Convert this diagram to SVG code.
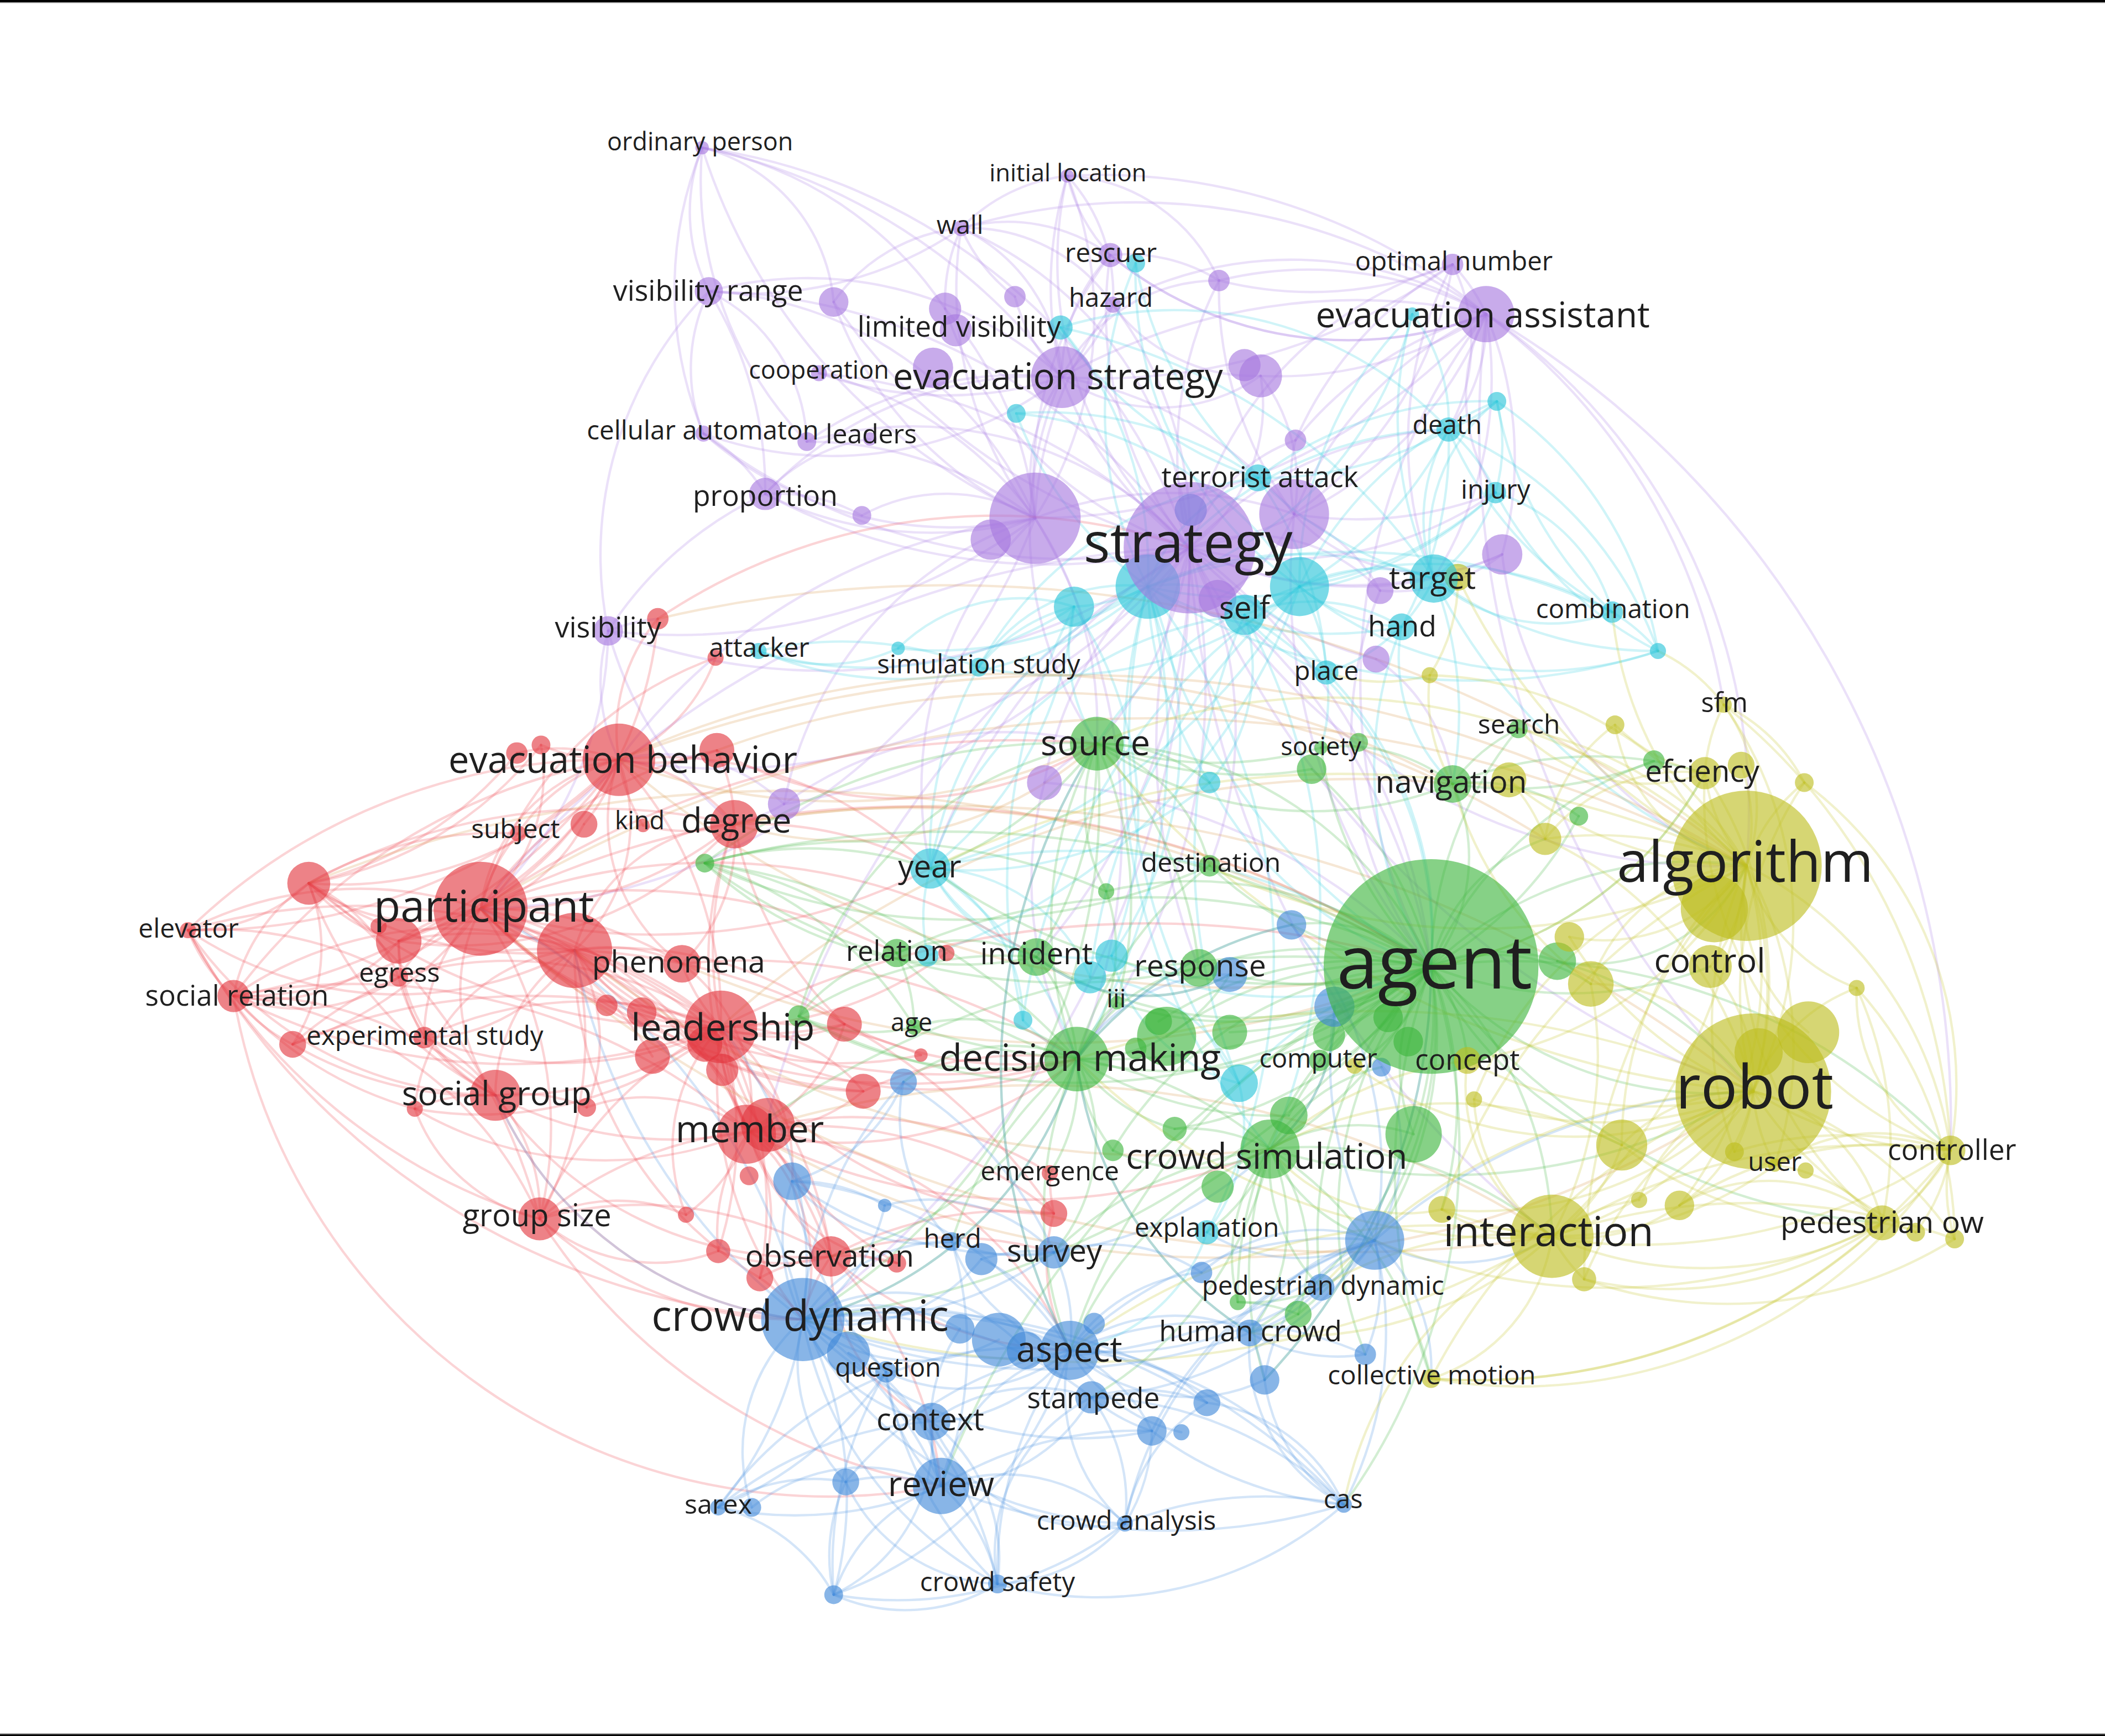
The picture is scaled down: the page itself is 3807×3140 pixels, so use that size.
<svg xmlns="http://www.w3.org/2000/svg" width="3807" height="3140" viewBox="0 0 3807 3140">
<style>
text{font-family:"Open Sans","Noto Sans","DejaVu Sans",sans-serif;fill:#1f1f1f;text-anchor:middle}
#edges path{fill:none;stroke-width:1.8;stroke-opacity:.24;stroke-linecap:round}
.ep{stroke:#ad80e6}.ec{stroke:#3ccfe2}.er{stroke:#ee4a52}.eg{stroke:#45b845}.eb{stroke:#4d92e0}.ey{stroke:#c4c42a}.eo{stroke:#d99a50}
circle{fill-opacity:.62}
.p{fill:#a677de}.c{fill:#27c3d8}.r{fill:#e2353e}.g{fill:#3bb43b}.b{fill:#3f88d8}.y{fill:#bdbd1d}
</style>
<rect width="3807" height="3140" fill="#fff"/>
<rect x="0" y="0" width="3807" height="4" fill="#000"/>
<rect x="0" y="4" width="3807" height="1.5" fill="#999"/>
<rect x="0" y="3135" width="3807" height="2" fill="#999"/>
<rect x="0" y="3137" width="3807" height="3" fill="#000"/>
<g transform="scale(2.42793)">
<g id="edges">
<path class="ep" d="M886 408A280 280 0 0 1 791 281"/>
<path class="ep" d="M886 408A450 450 0 0 0 528 217"/>
<path class="ep" d="M886 408A280 280 0 0 1 704 230"/>
<path class="ep" d="M886 408A280 280 0 0 0 716 170"/>
<path class="ep" d="M886 408A280 280 0 0 1 827 190"/>
<path class="ep" d="M886 408A280 280 0 0 0 829 227"/>
<path class="ep" d="M886 408A280 280 0 0 1 795 131"/>
<path class="ep" d="M886 408A280 280 0 0 0 1107 234"/>
<path class="ep" d="M886 408A280 280 0 0 1 1082 197"/>
<path class="ep" d="M886 408A450 450 0 0 1 570 368"/>
<path class="ep" d="M886 408A280 280 0 0 0 601 329"/>
<path class="ep" d="M886 408A450 450 0 0 1 524 323"/>
<path class="ep" d="M886 408A450 450 0 0 0 610 278"/>
<path class="ep" d="M886 408A450 450 0 0 1 453 470"/>
<path class="ep" d="M886 408A450 450 0 0 1 621 225"/>
<path class="ep" d="M886 408A280 280 0 0 1 908 209"/>
<path class="ep" d="M886 408A130 130 0 0 0 939 280"/>
<path class="ep" d="M886 408A130 130 0 0 1 965 328"/>
<path class="ep" d="M886 408A280 280 0 0 0 1119 413"/>
<path class="ep" d="M886 408A130 130 0 0 1 1028 440"/>
<path class="ep" d="M886 408A280 280 0 0 0 1025 491"/>
<path class="ep" d="M886 408A450 450 0 0 1 584 599"/>
<path class="ep" d="M886 408A280 280 0 0 0 778 583"/>
<path class="ep" d="M886 408A450 450 0 0 0 523 110"/>
<path class="ep" d="M886 408A450 450 0 0 1 1066 720"/>
<path class="ep" d="M886 408A450 450 0 0 0 1301 645"/>
<path class="ep" d="M886 408A280 280 0 0 1 817 554"/>
<path class="ep" d="M886 408A700 700 0 0 0 358 677"/>
<path class="ep" d="M886 408A450 450 0 0 1 461 566"/>
<path class="ep" d="M886 408A700 700 0 0 0 1306 813"/>
<path class="ep" d="M886 408A280 280 0 0 0 1068 431"/>
<path class="ep" d="M886 408A280 280 0 0 1 1079 320"/>
<path class="ep" d="M886 408A280 280 0 0 0 1114 367"/>
<path class="ep" d="M886 408A700 700 0 0 1 598 983"/>
<path class="ep" d="M886 408A700 700 0 0 0 570 841"/>
<path class="ep" d="M886 408A450 450 0 0 1 802 789"/>
<path class="ep" d="M886 408A700 700 0 0 0 1156 921"/>
<path class="ep" d="M886 408A450 450 0 0 1 772 713"/>
<path class="ep" d="M886 408A450 450 0 0 0 693 647"/>
<path class="ep" d="M886 408A280 280 0 0 1 901 645"/>
<path class="ep" d="M886 408A450 450 0 0 0 893 721"/>
<path class="ep" d="M771 386A450 450 0 0 1 523 110"/>
<path class="ep" d="M771 386A280 280 0 0 0 528 217"/>
<path class="ep" d="M771 386A280 280 0 0 1 716 170"/>
<path class="ep" d="M771 386A280 280 0 0 1 570 368"/>
<path class="ep" d="M771 386A280 280 0 0 0 610 278"/>
<path class="ep" d="M771 386A280 280 0 0 1 524 323"/>
<path class="ep" d="M771 386A280 280 0 0 0 601 329"/>
<path class="ep" d="M771 386A130 130 0 0 1 791 281"/>
<path class="ep" d="M771 386A280 280 0 0 1 621 225"/>
<path class="ep" d="M771 386A280 280 0 0 0 704 230"/>
<path class="ep" d="M771 386A280 280 0 0 1 829 227"/>
<path class="ep" d="M771 386A450 450 0 0 0 1107 234"/>
<path class="ep" d="M771 386A450 450 0 0 1 453 470"/>
<path class="ep" d="M771 386A130 130 0 0 0 642 384"/>
<path class="ep" d="M771 386A280 280 0 0 0 584 599"/>
<path class="ep" d="M771 386A280 280 0 0 1 827 190"/>
<path class="ep" d="M771 386A280 280 0 0 0 795 131"/>
<path class="ep" d="M771 386A280 280 0 0 1 964 383"/>
<path class="ep" d="M771 386A450 450 0 0 1 358 677"/>
<path class="ep" d="M771 386A450 450 0 0 0 461 566"/>
<path class="ep" d="M771 386A280 280 0 0 1 817 554"/>
<path class="ep" d="M771 386A280 280 0 0 0 693 647"/>
<path class="ep" d="M771 386A450 450 0 0 1 802 789"/>
<path class="ep" d="M791 281A450 450 0 0 0 523 110"/>
<path class="ep" d="M791 281A280 280 0 0 1 795 131"/>
<path class="ep" d="M791 281A130 130 0 0 0 716 170"/>
<path class="ep" d="M791 281A130 130 0 0 1 827 190"/>
<path class="ep" d="M791 281A130 130 0 0 0 829 227"/>
<path class="ep" d="M791 281A130 130 0 0 1 756 221"/>
<path class="ep" d="M791 281A130 130 0 0 1 908 209"/>
<path class="ep" d="M791 281A450 450 0 0 1 1107 234"/>
<path class="ep" d="M791 281A130 130 0 0 0 939 280"/>
<path class="ep" d="M791 281A280 280 0 0 1 964 383"/>
<path class="ep" d="M791 281A280 280 0 0 0 570 368"/>
<path class="ep" d="M791 281A280 280 0 0 1 524 323"/>
<path class="ep" d="M791 281A280 280 0 0 0 528 217"/>
<path class="ep" d="M791 281A280 280 0 0 1 610 278"/>
<path class="ep" d="M791 281A280 280 0 0 0 601 329"/>
<path class="ep" d="M791 281A450 450 0 0 0 1082 197"/>
<path class="ep" d="M791 281A280 280 0 0 0 817 554"/>
<path class="ep" d="M1107 234A130 130 0 0 0 1082 197"/>
<path class="ep" d="M1107 234A130 130 0 0 1 1079 320"/>
<path class="ep" d="M1107 234A130 130 0 0 0 1114 367"/>
<path class="ep" d="M1107 234A280 280 0 0 1 1119 413"/>
<path class="ep" d="M1107 234A280 280 0 0 0 964 383"/>
<path class="ep" d="M1107 234A280 280 0 0 1 939 280"/>
<path class="ep" d="M1107 234A280 280 0 0 0 965 328"/>
<path class="ep" d="M1107 234A700 700 0 0 1 1453 857"/>
<path class="ep" d="M1107 234A450 450 0 0 1 1301 645"/>
<path class="ep" d="M1107 234A700 700 0 0 0 1306 813"/>
<path class="ep" d="M1107 234A450 450 0 0 1 1284 525"/>
<path class="ep" d="M1107 234A280 280 0 0 0 908 209"/>
<path class="ep" d="M1107 234A450 450 0 0 0 716 170"/>
<path class="ep" d="M1107 234A280 280 0 0 1 827 190"/>
<path class="ep" d="M1107 234A280 280 0 0 1 1068 431"/>
<path class="ep" d="M1107 234A450 450 0 0 0 1066 720"/>
<path class="ep" d="M964 383A130 130 0 0 1 965 328"/>
<path class="ep" d="M964 383A130 130 0 0 0 1119 413"/>
<path class="ep" d="M964 383A130 130 0 0 1 1028 440"/>
<path class="ep" d="M964 383A130 130 0 0 0 939 280"/>
<path class="ep" d="M964 383A280 280 0 0 1 908 209"/>
<path class="ep" d="M964 383A280 280 0 0 0 1114 367"/>
<path class="ep" d="M964 383A130 130 0 0 1 907 446"/>
<path class="ep" d="M964 383A450 450 0 0 0 1066 720"/>
<path class="ep" d="M907 446A450 450 0 0 1 1066 720"/>
<path class="ep" d="M1025 491A130 130 0 0 1 1082 584"/>
<path class="ep" d="M1028 440A280 280 0 0 0 1066 720"/>
<path class="ep" d="M528 217A130 130 0 0 1 523 110"/>
<path class="ep" d="M528 217A130 130 0 0 0 524 323"/>
<path class="ep" d="M528 217A280 280 0 0 1 570 368"/>
<path class="ep" d="M528 217A280 280 0 0 0 453 470"/>
<path class="ep" d="M528 217A130 130 0 0 1 601 329"/>
<path class="ep" d="M523 110A280 280 0 0 1 704 230"/>
<path class="ep" d="M523 110A280 280 0 0 0 524 323"/>
<path class="ep" d="M523 110A130 130 0 0 1 621 225"/>
<path class="ep" d="M523 110A280 280 0 0 0 601 329"/>
<path class="ep" d="M795 131A130 130 0 0 0 716 170"/>
<path class="ep" d="M795 131A130 130 0 0 1 829 227"/>
<path class="ep" d="M795 131A130 130 0 0 0 827 190"/>
<path class="ep" d="M795 131A450 450 0 0 1 1107 234"/>
<path class="ep" d="M795 131A130 130 0 0 1 908 209"/>
<path class="ep" d="M716 170A130 130 0 0 1 827 190"/>
<path class="ep" d="M716 170A130 130 0 0 0 704 230"/>
<path class="ep" d="M716 170A130 130 0 0 1 829 227"/>
<path class="ep" d="M716 170A130 130 0 0 0 756 221"/>
<path class="ep" d="M716 170A130 130 0 0 0 621 225"/>
<path class="ep" d="M716 170A280 280 0 0 1 528 217"/>
<path class="ep" d="M827 190A280 280 0 0 0 1107 234"/>
<path class="ep" d="M827 190A130 130 0 0 1 908 209"/>
<path class="ep" d="M829 227A280 280 0 0 1 1107 234"/>
<path class="ep" d="M829 227A130 130 0 0 0 939 280"/>
<path class="ep" d="M1082 197A280 280 0 0 1 908 209"/>
<path class="ep" d="M1082 197A280 280 0 0 0 965 328"/>
<path class="ep" d="M1082 197A130 130 0 0 1 1079 320"/>
<path class="ep" d="M1082 197A280 280 0 0 0 1068 431"/>
<path class="ep" d="M570 368A130 130 0 0 1 648 327"/>
<path class="ep" d="M570 368A280 280 0 0 0 453 470"/>
<path class="ep" d="M570 368A130 130 0 0 1 642 384"/>
<path class="ep" d="M570 368A130 130 0 0 0 524 323"/>
<path class="ep" d="M453 470A280 280 0 0 1 358 677"/>
<path class="ep" d="M453 470A130 130 0 0 0 461 566"/>
<path class="ep" d="M453 470A130 130 0 0 1 490 461"/>
<path class="ep" d="M453 470A280 280 0 0 0 547 614"/>
<path class="ep" d="M584 599A130 130 0 0 1 547 614"/>
<path class="ep" d="M584 599A130 130 0 0 0 461 566"/>
<path class="ep" d="M584 599A280 280 0 0 1 817 554"/>
<path class="ep" d="M778 583A130 130 0 0 1 817 554"/>
<path class="ep" d="M778 583A280 280 0 0 0 802 789"/>
<path class="ep" d="M778 583A450 450 0 0 1 1066 720"/>
<path class="ep" d="M1082 197A280 280 0 0 1 964 383"/>
<path class="ep" d="M1119 413A130 130 0 0 1 1028 440"/>
<path class="ep" d="M1119 413A280 280 0 0 0 1301 645"/>
<path class="ec" d="M855 437A280 280 0 0 1 1079 320"/>
<path class="ec" d="M855 437A280 280 0 0 0 1114 367"/>
<path class="ec" d="M855 437A280 280 0 0 1 1068 431"/>
<path class="ec" d="M855 437A280 280 0 0 0 1044 467"/>
<path class="ec" d="M855 437A130 130 0 0 1 988 501"/>
<path class="ec" d="M855 437A130 130 0 0 0 729 497"/>
<path class="ec" d="M855 437A280 280 0 0 1 565 485"/>
<path class="ec" d="M855 437A280 280 0 0 0 693 647"/>
<path class="ec" d="M855 437A130 130 0 0 1 800 452"/>
<path class="ec" d="M855 437A280 280 0 0 0 901 583"/>
<path class="ec" d="M855 437A280 280 0 0 1 828 712"/>
<path class="ec" d="M855 437A450 450 0 0 0 923 807"/>
<path class="ec" d="M855 437A450 450 0 0 1 899 918"/>
<path class="ec" d="M855 437A280 280 0 0 1 757 308"/>
<path class="ec" d="M855 437A280 280 0 0 0 790 244"/>
<path class="ec" d="M855 437A280 280 0 0 1 846 196"/>
<path class="ec" d="M855 437A280 280 0 0 0 1052 234"/>
<path class="ec" d="M855 437A450 450 0 0 1 1201 456"/>
<path class="ec" d="M855 437A450 450 0 0 0 1235 485"/>
<path class="ec" d="M855 437A130 130 0 0 1 937 356"/>
<path class="ec" d="M855 437A280 280 0 0 1 669 483"/>
<path class="ec" d="M855 437A450 450 0 0 0 1066 720"/>
<path class="ec" d="M855 437A450 450 0 0 1 802 789"/>
<path class="ec" d="M855 437A450 450 0 0 0 946 856"/>
<path class="ec" d="M968 437A280 280 0 0 0 1079 320"/>
<path class="ec" d="M968 437A280 280 0 0 1 1115 299"/>
<path class="ec" d="M968 437A280 280 0 0 0 1114 367"/>
<path class="ec" d="M968 437A130 130 0 0 1 1068 431"/>
<path class="ec" d="M968 437A130 130 0 0 0 1044 467"/>
<path class="ec" d="M968 437A130 130 0 0 1 988 501"/>
<path class="ec" d="M968 437A280 280 0 0 1 1201 456"/>
<path class="ec" d="M968 437A280 280 0 0 0 1235 485"/>
<path class="ec" d="M968 437A280 280 0 0 1 1052 234"/>
<path class="ec" d="M968 437A450 450 0 0 1 693 647"/>
<path class="ec" d="M968 437A450 450 0 0 0 762 760"/>
<path class="ec" d="M968 437A450 450 0 0 1 691 712"/>
<path class="ec" d="M968 437A450 450 0 0 0 812 728"/>
<path class="ec" d="M968 437A280 280 0 0 1 846 196"/>
<path class="ec" d="M968 437A280 280 0 0 0 757 308"/>
<path class="ec" d="M968 437A280 280 0 0 1 729 497"/>
<path class="ec" d="M968 437A280 280 0 0 0 817 554"/>
<path class="ec" d="M1068 431A130 130 0 0 1 1079 320"/>
<path class="ec" d="M1068 431A130 130 0 0 0 1114 367"/>
<path class="ec" d="M1068 431A130 130 0 0 1 1115 299"/>
<path class="ec" d="M1068 431A130 130 0 0 0 1201 456"/>
<path class="ec" d="M1068 431A130 130 0 0 1 988 501"/>
<path class="ec" d="M1068 431A280 280 0 0 0 1235 485"/>
<path class="ec" d="M1068 431A280 280 0 0 1 1052 234"/>
<path class="ec" d="M1068 431A450 450 0 0 0 790 244"/>
<path class="ec" d="M1068 431A280 280 0 0 1 937 356"/>
<path class="ec" d="M1068 431A450 450 0 0 0 1301 645"/>
<path class="ec" d="M1068 431A280 280 0 0 1 1082 584"/>
<path class="ec" d="M1079 320A130 130 0 0 0 1115 299"/>
<path class="ec" d="M1079 320A130 130 0 0 1 1114 367"/>
<path class="ec" d="M1079 320A130 130 0 0 0 1052 234"/>
<path class="ec" d="M1079 320A280 280 0 0 1 1235 485"/>
<path class="ec" d="M1079 320A280 280 0 0 0 1201 456"/>
<path class="ec" d="M1079 320A280 280 0 0 1 937 356"/>
<path class="ec" d="M1079 320A280 280 0 0 0 790 244"/>
<path class="ec" d="M1079 320A280 280 0 0 1 1044 467"/>
<path class="ec" d="M1115 299A130 130 0 0 1 1114 367"/>
<path class="ec" d="M1115 299A280 280 0 0 0 1201 456"/>
<path class="ec" d="M1115 299A280 280 0 0 1 1235 485"/>
<path class="ec" d="M1115 299A280 280 0 0 0 937 356"/>
<path class="ec" d="M1114 367A130 130 0 0 1 1201 456"/>
<path class="ec" d="M1114 367A280 280 0 0 0 1235 485"/>
<path class="ec" d="M937 356A280 280 0 0 1 790 244"/>
<path class="ec" d="M937 356A280 280 0 0 0 757 308"/>
<path class="ec" d="M937 356A280 280 0 0 1 846 196"/>
<path class="ec" d="M937 356A280 280 0 0 0 729 497"/>
<path class="ec" d="M937 356A280 280 0 0 1 988 501"/>
<path class="ec" d="M927 458A130 130 0 0 0 988 501"/>
<path class="ec" d="M927 458A130 130 0 0 1 1044 467"/>
<path class="ec" d="M927 458A280 280 0 0 0 693 647"/>
<path class="ec" d="M927 458A130 130 0 0 1 901 583"/>
<path class="ec" d="M927 458A450 450 0 0 0 923 807"/>
<path class="ec" d="M927 458A280 280 0 0 1 1066 720"/>
<path class="ec" d="M927 458A450 450 0 0 1 946 856"/>
<path class="ec" d="M800 452A130 130 0 0 0 729 497"/>
<path class="ec" d="M800 452A280 280 0 0 1 693 647"/>
<path class="ec" d="M800 452A130 130 0 0 0 669 483"/>
<path class="ec" d="M800 452A280 280 0 0 1 565 485"/>
<path class="ec" d="M800 452A450 450 0 0 0 762 760"/>
<path class="ec" d="M800 452A280 280 0 0 1 828 712"/>
<path class="ec" d="M800 452A130 130 0 0 0 817 554"/>
<path class="ec" d="M693 647A130 130 0 0 0 691 712"/>
<path class="ec" d="M693 647A130 130 0 0 1 812 728"/>
<path class="ec" d="M693 647A130 130 0 0 0 828 712"/>
<path class="ec" d="M693 647A130 130 0 0 1 762 760"/>
<path class="ec" d="M693 647A280 280 0 0 0 901 583"/>
<path class="ec" d="M693 647A280 280 0 0 1 729 497"/>
<path class="ec" d="M693 647A450 450 0 0 1 1066 720"/>
<path class="ec" d="M693 647A280 280 0 0 1 802 789"/>
<path class="ec" d="M693 647A130 130 0 0 0 772 713"/>
<path class="ec" d="M923 807A130 130 0 0 1 899 918"/>
<path class="ec" d="M923 807A130 130 0 0 0 812 728"/>
<path class="ec" d="M923 807A130 130 0 0 1 828 712"/>
<path class="ec" d="M923 807A280 280 0 0 1 1066 720"/>
<path class="ec" d="M828 712A280 280 0 0 0 1066 720"/>
<path class="ec" d="M901 583A280 280 0 0 0 1066 720"/>
<path class="ec" d="M1044 467A280 280 0 0 0 1066 720"/>
<path class="ec" d="M988 501A280 280 0 0 1 1066 720"/>
<path class="ec" d="M1044 467A130 130 0 0 0 1082 584"/>
<path class="ec" d="M988 501A130 130 0 0 1 984 557"/>
<path class="ec" d="M762 760A130 130 0 0 0 802 789"/>
<path class="ec" d="M899 918A130 130 0 0 1 797 1006"/>
<path class="ec" d="M565 485A280 280 0 0 1 729 497"/>
<path class="ec" d="M565 485A130 130 0 0 0 669 483"/>
<path class="ec" d="M1201 456A130 130 0 0 1 1235 485"/>
<path class="er" d="M358 677A280 280 0 0 0 140 693"/>
<path class="er" d="M358 677A280 280 0 0 1 174 742"/>
<path class="er" d="M358 677A130 130 0 0 0 297 728"/>
<path class="er" d="M358 677A130 130 0 0 1 230 658"/>
<path class="er" d="M358 677A130 130 0 0 0 297 701"/>
<path class="er" d="M358 677A280 280 0 0 1 218 778"/>
<path class="er" d="M358 677A130 130 0 0 0 316 773"/>
<path class="er" d="M358 677A130 130 0 0 1 386 621"/>
<path class="er" d="M358 677A130 130 0 0 0 435 614"/>
<path class="er" d="M358 677A130 130 0 0 1 461 566"/>
<path class="er" d="M358 677A280 280 0 0 0 547 614"/>
<path class="er" d="M358 677A280 280 0 0 1 508 718"/>
<path class="er" d="M358 677A280 280 0 0 0 537 765"/>
<path class="er" d="M358 677A280 280 0 0 1 558 843"/>
<path class="er" d="M358 677A130 130 0 0 0 369 816"/>
<path class="er" d="M358 677A280 280 0 0 1 402 908"/>
<path class="er" d="M358 677A280 280 0 0 0 490 461"/>
<path class="er" d="M358 677A280 280 0 0 1 533 490"/>
<path class="er" d="M358 677A130 130 0 0 0 403 555"/>
<path class="er" d="M358 677A280 280 0 0 1 534 559"/>
<path class="er" d="M358 677A280 280 0 0 0 629 763"/>
<path class="er" d="M358 677A450 450 0 0 1 619 936"/>
<path class="er" d="M358 677A130 130 0 0 0 428 708"/>
<path class="er" d="M358 677A280 280 0 0 1 486 787"/>
<path class="er" d="M358 677A450 450 0 0 0 643 813"/>
<path class="er" d="M358 677A700 700 0 0 1 1066 720"/>
<path class="er" d="M358 677A450 450 0 0 0 802 789"/>
<path class="er" d="M358 677A450 450 0 0 1 668 710"/>
<path class="er" d="M358 677A450 450 0 0 0 693 647"/>
<path class="er" d="M358 677A700 700 0 0 1 817 554"/>
<path class="er" d="M358 677A450 450 0 0 1 772 713"/>
<path class="er" d="M428 708A280 280 0 0 1 140 693"/>
<path class="er" d="M428 708A280 280 0 0 0 174 742"/>
<path class="er" d="M428 708A280 280 0 0 1 230 658"/>
<path class="er" d="M428 708A130 130 0 0 0 461 566"/>
<path class="er" d="M428 708A130 130 0 0 1 547 614"/>
<path class="er" d="M428 708A130 130 0 0 0 537 765"/>
<path class="er" d="M428 708A280 280 0 0 1 558 843"/>
<path class="er" d="M428 708A130 130 0 0 0 369 816"/>
<path class="er" d="M428 708A280 280 0 0 1 402 908"/>
<path class="er" d="M428 708A280 280 0 0 0 218 778"/>
<path class="er" d="M428 708A130 130 0 0 1 316 773"/>
<path class="er" d="M428 708A280 280 0 0 0 643 813"/>
<path class="er" d="M428 708A280 280 0 0 1 619 936"/>
<path class="er" d="M428 708A280 280 0 0 0 566 952"/>
<path class="er" d="M428 708A450 450 0 0 1 785 904"/>
<path class="er" d="M428 708A280 280 0 0 0 686 786"/>
<path class="er" d="M428 708A280 280 0 0 1 629 763"/>
<path class="er" d="M428 708A130 130 0 0 0 297 701"/>
<path class="er" d="M428 708A130 130 0 0 1 508 718"/>
<path class="er" d="M428 708A130 130 0 0 0 309 826"/>
<path class="er" d="M428 708A130 130 0 0 1 437 825"/>
<path class="er" d="M428 708A450 450 0 0 0 802 789"/>
<path class="er" d="M537 765A130 130 0 0 0 558 843"/>
<path class="er" d="M537 765A280 280 0 0 1 369 816"/>
<path class="er" d="M537 765A280 280 0 0 0 402 908"/>
<path class="er" d="M537 765A130 130 0 0 1 508 718"/>
<path class="er" d="M537 765A130 130 0 0 0 629 763"/>
<path class="er" d="M537 765A130 130 0 0 1 643 813"/>
<path class="er" d="M537 765A280 280 0 0 0 619 936"/>
<path class="er" d="M537 765A280 280 0 0 1 535 932"/>
<path class="er" d="M537 765A130 130 0 0 0 511 905"/>
<path class="er" d="M537 765A280 280 0 0 1 547 614"/>
<path class="er" d="M537 765A280 280 0 0 0 461 566"/>
<path class="er" d="M537 765A450 450 0 0 1 230 658"/>
<path class="er" d="M537 765A280 280 0 0 0 785 904"/>
<path class="er" d="M537 765A280 280 0 0 1 686 786"/>
<path class="er" d="M537 765A280 280 0 0 0 705 710"/>
<path class="er" d="M537 765A700 700 0 0 1 1066 720"/>
<path class="er" d="M537 765A280 280 0 0 0 598 983"/>
<path class="er" d="M537 765A450 450 0 0 1 174 742"/>
<path class="er" d="M537 765A450 450 0 0 0 140 693"/>
<path class="er" d="M537 765A280 280 0 0 1 309 826"/>
<path class="er" d="M537 765A280 280 0 0 0 316 773"/>
<path class="er" d="M537 765A280 280 0 0 1 566 952"/>
<path class="er" d="M537 765A280 280 0 0 0 668 941"/>
<path class="er" d="M537 765A130 130 0 0 1 590 880"/>
<path class="er" d="M537 765A280 280 0 0 0 802 789"/>
<path class="er" d="M558 843A280 280 0 0 1 369 816"/>
<path class="er" d="M558 843A280 280 0 0 0 402 908"/>
<path class="er" d="M558 843A130 130 0 0 1 619 936"/>
<path class="er" d="M558 843A130 130 0 0 0 668 941"/>
<path class="er" d="M558 843A130 130 0 0 1 566 952"/>
<path class="er" d="M558 843A130 130 0 0 0 535 932"/>
<path class="er" d="M558 843A130 130 0 0 1 598 983"/>
<path class="er" d="M558 843A130 130 0 0 0 643 813"/>
<path class="er" d="M558 843A280 280 0 0 1 785 904"/>
<path class="er" d="M558 843A280 280 0 0 0 802 789"/>
<path class="eo" d="M558 843A700 700 0 0 1 1156 921"/>
<path class="eo" d="M558 843A700 700 0 0 0 1306 813"/>
<path class="er" d="M558 843A130 130 0 0 1 511 905"/>
<path class="er" d="M558 843A130 130 0 0 0 437 825"/>
<path class="er" d="M558 843A280 280 0 0 1 309 826"/>
<path class="er" d="M558 843A450 450 0 0 0 174 742"/>
<path class="er" d="M558 843A280 280 0 0 1 797 1006"/>
<path class="er" d="M558 843A130 130 0 0 0 629 763"/>
<path class="er" d="M558 843A280 280 0 0 1 782 874"/>
<path class="er" d="M558 843A450 450 0 0 0 946 856"/>
<path class="er" d="M461 566A130 130 0 0 1 490 461"/>
<path class="er" d="M461 566A130 130 0 0 0 533 490"/>
<path class="er" d="M461 566A130 130 0 0 1 403 555"/>
<path class="er" d="M461 566A130 130 0 0 0 385 561"/>
<path class="er" d="M461 566A130 130 0 0 1 435 614"/>
<path class="er" d="M461 566A130 130 0 0 0 386 621"/>
<path class="er" d="M461 566A130 130 0 0 1 547 614"/>
<path class="er" d="M461 566A130 130 0 0 0 534 559"/>
<path class="er" d="M461 566A280 280 0 0 1 230 658"/>
<path class="er" d="M461 566A450 450 0 0 0 174 742"/>
<path class="er" d="M461 566A450 450 0 0 1 140 693"/>
<path class="eo" d="M461 566A700 700 0 0 0 1066 720"/>
<path class="eo" d="M461 566A950 950 0 0 1 1301 645"/>
<path class="eo" d="M461 566A450 450 0 0 0 817 554"/>
<path class="er" d="M461 566A280 280 0 0 1 693 647"/>
<path class="er" d="M461 566A130 130 0 0 0 508 718"/>
<path class="er" d="M461 566A280 280 0 0 1 297 701"/>
<path class="er" d="M461 566A130 130 0 0 0 479 615"/>
<path class="er" d="M230 658A130 130 0 0 1 140 693"/>
<path class="er" d="M230 658A130 130 0 0 0 174 742"/>
<path class="er" d="M230 658A130 130 0 0 1 218 778"/>
<path class="er" d="M230 658A130 130 0 0 0 297 701"/>
<path class="er" d="M230 658A130 130 0 0 1 297 728"/>
<path class="er" d="M230 658A280 280 0 0 0 369 816"/>
<path class="er" d="M230 658A450 450 0 0 1 402 908"/>
<path class="er" d="M230 658A280 280 0 0 0 403 555"/>
<path class="er" d="M230 658A280 280 0 0 1 386 621"/>
<path class="er" d="M230 658A280 280 0 0 0 385 561"/>
<path class="er" d="M230 658A450 450 0 0 1 547 614"/>
<path class="er" d="M174 742A130 130 0 0 1 140 693"/>
<path class="er" d="M174 742A130 130 0 0 0 218 778"/>
<path class="er" d="M174 742A280 280 0 0 1 369 816"/>
<path class="er" d="M174 742A130 130 0 0 0 297 728"/>
<path class="er" d="M174 742A280 280 0 0 1 402 908"/>
<path class="er" d="M174 742A280 280 0 0 0 309 826"/>
<path class="er" d="M174 742A450 450 0 0 0 701 1107"/>
<path class="er" d="M174 742A450 450 0 0 0 461 566"/>
<path class="er" d="M140 693A560 560 0 0 0 598 983"/>
<path class="er" d="M140 693A450 450 0 0 1 461 566"/>
<path class="er" d="M369 816A130 130 0 0 1 402 908"/>
<path class="er" d="M369 816A130 130 0 0 0 309 826"/>
<path class="er" d="M369 816A130 130 0 0 1 437 825"/>
<path class="er" d="M369 816A130 130 0 0 0 316 773"/>
<path class="er" d="M369 816A280 280 0 0 1 218 778"/>
<path class="er" d="M369 816A280 280 0 0 0 619 936"/>
<path class="er" d="M369 816A130 130 0 0 1 297 728"/>
<path class="er" d="M369 816A280 280 0 0 0 598 983"/>
<path class="er" d="M402 908A130 130 0 0 1 511 905"/>
<path class="er" d="M402 908A130 130 0 0 0 535 932"/>
<path class="er" d="M402 908A280 280 0 0 1 619 936"/>
<path class="er" d="M402 908A280 280 0 0 0 598 983"/>
<path class="er" d="M402 908A450 450 0 0 0 701 1107"/>
<path class="er" d="M309 826A130 130 0 0 0 402 908"/>
<path class="er" d="M140 693A280 280 0 0 1 297 728"/>
<path class="er" d="M140 693A280 280 0 0 0 369 816"/>
<path class="er" d="M140 693A450 450 0 0 0 402 908"/>
<path class="er" d="M297 701A130 130 0 0 1 174 742"/>
<path class="er" d="M297 701A130 130 0 0 0 316 773"/>
<path class="er" d="M297 701A130 130 0 0 0 369 816"/>
<path class="er" d="M297 701A280 280 0 0 1 537 765"/>
<path class="er" d="M297 701A280 280 0 0 0 547 614"/>
<path class="er" d="M297 728A280 280 0 0 1 537 765"/>
<path class="er" d="M316 773A280 280 0 0 0 537 765"/>
<path class="er" d="M218 778A450 450 0 0 1 537 765"/>
<path class="er" d="M508 718A130 130 0 0 1 558 843"/>
<path class="er" d="M508 718A450 450 0 0 1 802 789"/>
<path class="eo" d="M508 718A700 700 0 0 0 1066 720"/>
<path class="er" d="M547 614A130 130 0 0 1 479 615"/>
<path class="er" d="M547 614A130 130 0 0 0 534 559"/>
<path class="er" d="M547 614A130 130 0 0 1 508 718"/>
<path class="er" d="M547 614A280 280 0 0 0 629 763"/>
<path class="er" d="M547 614A280 280 0 0 1 693 647"/>
<path class="er" d="M547 614A280 280 0 0 0 558 843"/>
<path class="eo" d="M547 614A280 280 0 0 0 817 554"/>
<path class="eo" d="M547 614A700 700 0 0 1 1066 720"/>
<path class="er" d="M643 813A280 280 0 0 1 802 789"/>
<path class="er" d="M629 763A280 280 0 0 0 802 789"/>
<path class="er" d="M534 559A280 280 0 0 0 817 554"/>
<path class="er" d="M490 461A450 450 0 0 1 886 408"/>
<path class="er" d="M619 936A130 130 0 0 1 668 941"/>
<path class="er" d="M619 936A130 130 0 0 0 566 952"/>
<path class="er" d="M619 936A130 130 0 0 1 535 932"/>
<path class="er" d="M619 936A130 130 0 0 0 598 983"/>
<path class="er" d="M619 936A280 280 0 0 1 785 904"/>
<path class="er" d="M619 936A280 280 0 0 0 797 1006"/>
<path class="er" d="M619 936A280 280 0 0 1 701 1107"/>
<path class="er" d="M619 936A130 130 0 0 0 694 1059"/>
<path class="er" d="M619 936A280 280 0 0 1 785 933"/>
<path class="er" d="M566 952A130 130 0 0 1 598 983"/>
<path class="er" d="M785 904A130 130 0 0 1 782 874"/>
<path class="er" d="M785 904A130 130 0 0 0 797 1006"/>
<path class="eo" d="M358 677A950 950 0 0 1 1301 645"/>
<path class="eo" d="M358 677A950 950 0 0 0 1156 921"/>
<path class="eo" d="M537 765A700 700 0 0 1 1082 584"/>
<path class="eo" d="M461 566A700 700 0 0 1 1082 584"/>
<path class="eo" d="M547 614A950 950 0 0 1 1306 813"/>
<path class="eo" d="M428 708A700 700 0 0 0 946 856"/>
<path class="eo" d="M490 461A950 950 0 0 1 1301 645"/>
<path class="eo" d="M534 559A700 700 0 0 1 1151 625"/>
<path class="eo" d="M230 658A950 950 0 0 1 1066 720"/>
<path class="eg" d="M1066 720A280 280 0 0 0 817 554"/>
<path class="eg" d="M1066 720A280 280 0 0 1 984 557"/>
<path class="eg" d="M1066 720A280 280 0 0 0 977 573"/>
<path class="eg" d="M1066 720A280 280 0 0 1 1131 543"/>
<path class="eg" d="M1066 720A130 130 0 0 0 1082 584"/>
<path class="eg" d="M1066 720A280 280 0 0 1 901 645"/>
<path class="eg" d="M1066 720A280 280 0 0 0 824 664"/>
<path class="eg" d="M1066 720A280 280 0 0 1 772 713"/>
<path class="eg" d="M1066 720A280 280 0 0 0 893 721"/>
<path class="eg" d="M1066 720A280 280 0 0 1 802 789"/>
<path class="eg" d="M1066 720A280 280 0 0 0 869 772"/>
<path class="eg" d="M1066 720A280 280 0 0 1 916 769"/>
<path class="eg" d="M1066 720A280 280 0 0 0 960 831"/>
<path class="eg" d="M1066 720A280 280 0 0 1 875 841"/>
<path class="eg" d="M1066 720A130 130 0 0 0 1053 845"/>
<path class="eg" d="M1066 720A280 280 0 0 1 946 856"/>
<path class="eg" d="M1066 720A280 280 0 0 0 829 857"/>
<path class="eg" d="M1066 720A280 280 0 0 1 967 979"/>
<path class="eg" d="M1066 720A280 280 0 0 0 922 970"/>
<path class="eg" d="M1066 720A130 130 0 0 1 1160 716"/>
<path class="eg" d="M1066 720A280 280 0 0 0 1176 608"/>
<path class="eg" d="M1066 720A280 280 0 0 1 1232 567"/>
<path class="eg" d="M1066 720A700 700 0 0 0 525 643"/>
<path class="eg" d="M1066 720A450 450 0 0 1 595 757"/>
<path class="eg" d="M1066 720A450 450 0 0 0 668 710"/>
<path class="eg" d="M1066 720A280 280 0 0 1 1301 645"/>
<path class="eg" d="M1066 720A280 280 0 0 0 1306 813"/>
<path class="eg" d="M1066 720A280 280 0 0 1 1156 921"/>
<path class="eg" d="M1066 720A280 280 0 0 0 1274 720"/>
<path class="eg" d="M1066 720A130 130 0 0 1 1185 733"/>
<path class="eg" d="M1066 720A280 280 0 0 0 1208 853"/>
<path class="eg" d="M1066 720A130 130 0 0 1 1151 625"/>
<path class="eg" d="M1066 720A280 280 0 0 0 1270 576"/>
<path class="eg" d="M1066 720A700 700 0 0 1 598 983"/>
<path class="eg" d="M1066 720A450 450 0 0 0 797 1006"/>
<path class="eg" d="M1066 720A280 280 0 0 1 1024 924"/>
<path class="eg" d="M1066 720A450 450 0 0 0 1402 911"/>
<path class="eg" d="M1066 720A450 450 0 0 1 1453 857"/>
<path class="eg" d="M1066 720A450 450 0 0 1 693 647"/>
<path class="eg" d="M1066 720A130 130 0 0 0 962 689"/>
<path class="eg" d="M1066 720A130 130 0 0 1 1093 790"/>
<path class="eg" d="M1066 720A130 130 0 0 0 983 790"/>
<path class="eg" d="M1066 720A280 280 0 0 1 832 747"/>
<path class="eg" d="M1066 720A280 280 0 0 0 863 761"/>
<path class="eg" d="M1066 720A450 450 0 0 1 681 765"/>
<path class="eg" d="M1066 720A280 280 0 0 0 984 959"/>
<path class="eg" d="M1066 720A280 280 0 0 1 931 993"/>
<path class="eg" d="M1066 720A280 280 0 0 1 916 726"/>
<path class="eg" d="M1066 720A450 450 0 0 0 1066 1027"/>
<path class="eg" d="M1066 720A280 280 0 0 1 1074 901"/>
<path class="eg" d="M1066 720A700 700 0 0 0 558 843"/>
<path class="eg" d="M1066 720A130 130 0 0 1 1009 794"/>
<path class="eg" d="M1066 720A450 450 0 0 1 942 1028"/>
<path class="eg" d="M1066 720A280 280 0 0 0 1017 1009"/>
<path class="eg" d="M1066 720A450 450 0 0 1 1001 1121"/>
<path class="eg" d="M1066 720A700 700 0 0 0 701 1107"/>
<path class="eg" d="M802 789A280 280 0 0 1 817 554"/>
<path class="eg" d="M802 789A130 130 0 0 0 772 713"/>
<path class="eg" d="M802 789A130 130 0 0 1 893 721"/>
<path class="eg" d="M802 789A130 130 0 0 0 875 841"/>
<path class="eg" d="M802 789A280 280 0 0 1 946 856"/>
<path class="eg" d="M802 789A130 130 0 0 0 829 857"/>
<path class="eg" d="M802 789A280 280 0 0 1 595 757"/>
<path class="eg" d="M802 789A450 450 0 0 0 525 643"/>
<path class="eg" d="M802 789A280 280 0 0 1 668 710"/>
<path class="eg" d="M802 789A280 280 0 0 0 797 1006"/>
<path class="eg" d="M802 789A280 280 0 0 1 619 936"/>
<path class="eg" d="M802 789A130 130 0 0 0 673 806"/>
<path class="eg" d="M802 789A130 130 0 0 1 782 874"/>
<path class="eg" d="M802 789A280 280 0 0 0 960 831"/>
<path class="eg" d="M802 789A130 130 0 0 1 832 747"/>
<path class="eg" d="M802 789A130 130 0 0 0 681 765"/>
<path class="eg" d="M802 789A130 130 0 0 1 785 933"/>
<path class="eg" d="M802 789A280 280 0 0 0 709 925"/>
<path class="eg" d="M802 789A280 280 0 0 1 901 645"/>
<path class="eg" d="M802 789A130 130 0 0 0 824 664"/>
<path class="eg" d="M802 789A280 280 0 0 1 962 689"/>
<path class="eg" d="M802 789A130 130 0 0 0 916 726"/>
<path class="eg" d="M772 713A130 130 0 0 0 916 726"/>
<path class="eg" d="M802 789A280 280 0 0 0 931 993"/>
<path class="eg" d="M802 789A280 280 0 0 1 598 983"/>
<path class="eg" d="M946 856A130 130 0 0 1 1053 845"/>
<path class="eg" d="M946 856A130 130 0 0 0 922 970"/>
<path class="eg" d="M946 856A130 130 0 0 1 967 979"/>
<path class="eg" d="M946 856A130 130 0 0 0 984 959"/>
<path class="eg" d="M946 856A130 130 0 0 1 931 993"/>
<path class="eg" d="M946 856A130 130 0 0 0 1024 924"/>
<path class="eg" d="M946 856A280 280 0 0 1 1156 921"/>
<path class="eg" d="M946 856A450 450 0 0 0 1306 813"/>
<path class="eg" d="M946 856A130 130 0 0 1 899 918"/>
<path class="eg" d="M946 856A280 280 0 0 0 797 1006"/>
<path class="eg" d="M946 856A280 280 0 0 1 813 1041"/>
<path class="eg" d="M946 856A280 280 0 0 0 942 1028"/>
<path class="eg" d="M946 856A280 280 0 0 1 1066 1027"/>
<path class="eg" d="M946 856A130 130 0 0 0 875 841"/>
<path class="eg" d="M946 856A130 130 0 0 1 829 857"/>
<path class="eg" d="M946 856A130 130 0 0 0 994 750"/>
<path class="eg" d="M946 856A130 130 0 0 1 1029 795"/>
<path class="eg" d="M946 856A280 280 0 0 0 785 933"/>
<path class="eg" d="M817 554A130 130 0 0 1 901 583"/>
<path class="eg" d="M817 554A280 280 0 0 0 984 557"/>
<path class="eg" d="M817 554A130 130 0 0 1 901 645"/>
<path class="eg" d="M817 554A130 130 0 0 0 824 664"/>
<path class="eg" d="M817 554A280 280 0 0 1 772 713"/>
<path class="eg" d="M817 554A280 280 0 0 0 1082 584"/>
<path class="eg" d="M817 554A280 280 0 0 1 693 647"/>
<path class="eg" d="M817 554A450 450 0 0 0 525 643"/>
<path class="eg" d="M817 554A280 280 0 0 1 893 721"/>
<path class="eg" d="M817 554A280 280 0 0 0 977 573"/>
<path class="eg" d="M817 554A280 280 0 0 1 832 747"/>
<path class="eg" d="M817 554A280 280 0 0 0 595 757"/>
<path class="eg" d="M817 554A450 450 0 0 0 797 1006"/>
<path class="eg" d="M817 554A450 450 0 0 1 598 983"/>
<path class="eg" d="M1082 584A130 130 0 0 1 1131 543"/>
<path class="eg" d="M1082 584A130 130 0 0 0 984 557"/>
<path class="eg" d="M1082 584A130 130 0 0 1 1176 608"/>
<path class="eg" d="M1082 584A280 280 0 0 0 1232 567"/>
<path class="eg" d="M1082 584A280 280 0 0 1 1270 576"/>
<path class="eg" d="M525 643A280 280 0 0 1 693 647"/>
<path class="eg" d="M525 643A280 280 0 0 0 772 713"/>
<path class="eg" d="M525 643A280 280 0 0 1 668 710"/>
<path class="eg" d="M525 643A450 450 0 0 0 901 645"/>
<path class="eg" d="M525 643A450 450 0 0 1 824 664"/>
<path class="eg" d="M525 643A450 450 0 0 0 893 721"/>
<path class="eg" d="M525 643A280 280 0 0 1 681 765"/>
<path class="eg" d="M668 710A130 130 0 0 1 772 713"/>
<path class="eg" d="M668 710A130 130 0 0 0 595 757"/>
<path class="eg" d="M668 710A130 130 0 0 1 681 765"/>
<path class="eg" d="M595 757A130 130 0 0 0 681 765"/>
<path class="eg" d="M595 757A280 280 0 0 1 772 713"/>
<path class="eg" d="M922 970A130 130 0 0 1 967 979"/>
<path class="eg" d="M922 970A130 130 0 0 0 984 959"/>
<path class="eg" d="M967 979A130 130 0 0 1 931 993"/>
<path class="eg" d="M1160 716A130 130 0 0 0 1301 645"/>
<path class="eg" d="M1160 716A280 280 0 0 1 1306 813"/>
<path class="eb" d="M598 983A130 130 0 0 1 660 1022"/>
<path class="eb" d="M598 983A130 130 0 0 0 694 1059"/>
<path class="eb" d="M598 983A280 280 0 0 1 701 1107"/>
<path class="eb" d="M598 983A130 130 0 0 0 630 1104"/>
<path class="eb" d="M598 983A280 280 0 0 1 535 1123"/>
<path class="eb" d="M598 983A130 130 0 0 0 560 1123"/>
<path class="eb" d="M598 983A280 280 0 0 1 621 1188"/>
<path class="eb" d="M598 983A280 280 0 0 0 743 1180"/>
<path class="eb" d="M598 983A280 280 0 0 1 797 1006"/>
<path class="eb" d="M598 983A130 130 0 0 0 744 998"/>
<path class="eb" d="M598 983A130 130 0 0 1 715 990"/>
<path class="eb" d="M598 983A280 280 0 0 0 785 933"/>
<path class="eb" d="M598 983A130 130 0 0 1 709 925"/>
<path class="eb" d="M598 983A130 130 0 0 0 731 938"/>
<path class="eb" d="M598 983A130 130 0 0 1 590 880"/>
<path class="eb" d="M598 983A130 130 0 0 0 659 898"/>
<path class="eb" d="M598 983A280 280 0 0 1 813 1041"/>
<path class="eb" d="M598 983A280 280 0 0 0 838 1135"/>
<path class="eb" d="M598 983A280 280 0 0 1 673 806"/>
<path class="eb" d="M598 983A450 450 0 0 0 358 677"/>
<path class="eb" d="M598 983A280 280 0 0 1 369 816"/>
<path class="eb" d="M598 983A280 280 0 0 0 858 1066"/>
<path class="eb" d="M598 983A130 130 0 0 1 764 1006"/>
<path class="eb" d="M598 983A450 450 0 0 0 931 993"/>
<path class="eb" d="M598 983A450 450 0 0 1 1001 1121"/>
<path class="eb" d="M598 983A450 450 0 0 0 1024 924"/>
<path class="eb" d="M598 983A450 450 0 0 1 899 1045"/>
<path class="eb" d="M598 983A280 280 0 0 0 537 765"/>
<path class="eb" d="M598 983A450 450 0 0 1 428 708"/>
<path class="eb" d="M797 1006A130 130 0 0 1 694 1059"/>
<path class="eb" d="M797 1006A130 130 0 0 0 701 1107"/>
<path class="eb" d="M797 1006A130 130 0 0 1 858 1066"/>
<path class="eb" d="M797 1006A130 130 0 0 0 880 1067"/>
<path class="eb" d="M797 1006A130 130 0 0 1 899 1045"/>
<path class="eb" d="M797 1006A130 130 0 0 0 942 1028"/>
<path class="eb" d="M797 1006A130 130 0 0 1 931 993"/>
<path class="eb" d="M797 1006A280 280 0 0 0 984 959"/>
<path class="eb" d="M797 1006A280 280 0 0 1 1024 924"/>
<path class="eb" d="M797 1006A130 130 0 0 0 785 933"/>
<path class="eb" d="M797 1006A130 130 0 0 1 709 925"/>
<path class="eb" d="M797 1006A130 130 0 0 0 731 938"/>
<path class="eb" d="M797 1006A130 130 0 0 1 660 1022"/>
<path class="eb" d="M797 1006A130 130 0 0 0 838 1135"/>
<path class="eb" d="M797 1006A280 280 0 0 1 1001 1121"/>
<path class="eb" d="M797 1006A280 280 0 0 0 743 1180"/>
<path class="eb" d="M797 1006A280 280 0 0 1 1017 1009"/>
<path class="eb" d="M797 1006A280 280 0 0 0 630 1104"/>
<path class="eb" d="M797 1006A280 280 0 0 1 621 1188"/>
<path class="eb" d="M797 1006A280 280 0 0 0 535 1123"/>
<path class="eb" d="M797 1006A130 130 0 0 1 895 948"/>
<path class="eb" d="M797 1006A280 280 0 0 0 590 880"/>
<path class="eb" d="M701 1107A130 130 0 0 1 694 1059"/>
<path class="eb" d="M701 1107A130 130 0 0 0 630 1104"/>
<path class="eb" d="M701 1107A280 280 0 0 1 535 1123"/>
<path class="eb" d="M701 1107A130 130 0 0 0 560 1123"/>
<path class="eb" d="M701 1107A130 130 0 0 1 743 1180"/>
<path class="eb" d="M701 1107A130 130 0 0 0 621 1188"/>
<path class="eb" d="M701 1107A130 130 0 0 1 838 1135"/>
<path class="eb" d="M701 1107A450 450 0 0 0 1001 1121"/>
<path class="eb" d="M701 1107A130 130 0 0 1 660 1022"/>
<path class="eb" d="M701 1107A130 130 0 0 0 813 1041"/>
<path class="eb" d="M701 1107A280 280 0 0 1 858 1066"/>
<path class="eb" d="M701 1107A130 130 0 0 0 632 1008"/>
<path class="eb" d="M701 1107A130 130 0 0 1 715 990"/>
<path class="eb" d="M701 1107A280 280 0 0 0 709 925"/>
<path class="eb" d="M1024 924A130 130 0 0 1 984 959"/>
<path class="eb" d="M1024 924A130 130 0 0 0 931 993"/>
<path class="eb" d="M1024 924A280 280 0 0 1 1001 1121"/>
<path class="eb" d="M1024 924A130 130 0 0 0 942 1028"/>
<path class="eb" d="M1024 924A130 130 0 0 1 1017 1009"/>
<path class="eb" d="M1024 924A130 130 0 0 0 895 948"/>
<path class="eb" d="M1024 924A130 130 0 0 1 899 918"/>
<path class="eb" d="M1024 924A280 280 0 0 0 962 689"/>
<path class="eb" d="M1024 924A280 280 0 0 1 994 750"/>
<path class="eb" d="M1024 924A280 280 0 0 0 838 1135"/>
<path class="eb" d="M1024 924A130 130 0 0 1 1066 1027"/>
<path class="eb" d="M1024 924A280 280 0 0 0 858 1066"/>
<path class="eb" d="M1024 924A280 280 0 0 1 813 1041"/>
<path class="eb" d="M1024 924A130 130 0 0 0 1156 921"/>
<path class="eb" d="M1024 924A450 450 0 0 1 1306 813"/>
<path class="eb" d="M1024 924A130 130 0 0 0 1029 795"/>
<path class="eb" d="M962 689A280 280 0 0 0 802 789"/>
<path class="eb" d="M994 750A130 130 0 0 1 946 856"/>
<path class="eb" d="M916 726A130 130 0 0 0 802 789"/>
<path class="eb" d="M916 726A130 130 0 0 1 772 713"/>
<path class="eb" d="M931 993A280 280 0 0 1 802 789"/>
<path class="eb" d="M785 933A280 280 0 0 0 946 856"/>
<path class="eb" d="M942 1028A450 450 0 0 0 1066 720"/>
<path class="eb" d="M797 1006A450 450 0 0 1 817 554"/>
<path class="eb" d="M598 983A280 280 0 0 0 802 789"/>
<path class="eb" d="M1001 1121A280 280 0 0 1 858 1066"/>
<path class="eb" d="M1001 1121A130 130 0 0 0 899 1045"/>
<path class="eb" d="M1001 1121A130 130 0 0 1 942 1028"/>
<path class="eb" d="M1001 1121A280 280 0 0 0 813 1041"/>
<path class="eb" d="M1001 1121A130 130 0 0 1 931 993"/>
<path class="eb" d="M1001 1121A280 280 0 0 0 838 1135"/>
<path class="eb" d="M1001 1121A280 280 0 0 1 743 1180"/>
<path class="eb" d="M743 1180A130 130 0 0 1 621 1188"/>
<path class="eb" d="M743 1180A130 130 0 0 0 694 1059"/>
<path class="eb" d="M743 1180A130 130 0 0 1 630 1104"/>
<path class="eb" d="M743 1180A130 130 0 0 0 838 1135"/>
<path class="eb" d="M743 1180A280 280 0 0 1 660 1022"/>
<path class="eb" d="M743 1180A280 280 0 0 0 632 1008"/>
<path class="eb" d="M743 1180A130 130 0 0 1 813 1041"/>
<path class="eb" d="M621 1188A130 130 0 0 0 694 1059"/>
<path class="eb" d="M621 1188A280 280 0 0 1 660 1022"/>
<path class="eb" d="M621 1188A130 130 0 0 0 535 1123"/>
<path class="eb" d="M621 1188A130 130 0 0 1 630 1104"/>
<path class="eb" d="M621 1188A280 280 0 0 0 838 1135"/>
<path class="eb" d="M535 1123A130 130 0 0 1 630 1104"/>
<path class="eb" d="M535 1123A280 280 0 0 0 660 1022"/>
<path class="eb" d="M535 1123A280 280 0 0 1 694 1059"/>
<path class="eb" d="M838 1135A130 130 0 0 0 813 1041"/>
<path class="eb" d="M838 1135A130 130 0 0 1 694 1059"/>
<path class="eb" d="M838 1135A130 130 0 0 0 858 1066"/>
<path class="eb" d="M838 1135A130 130 0 0 1 899 1045"/>
<path class="eb" d="M813 1041A130 130 0 0 0 858 1066"/>
<path class="eb" d="M813 1041A130 130 0 0 1 899 1045"/>
<path class="eb" d="M813 1041A130 130 0 0 0 694 1059"/>
<path class="eb" d="M785 933A130 130 0 0 1 709 925"/>
<path class="eb" d="M785 933A130 130 0 0 0 731 938"/>
<path class="eb" d="M785 933A280 280 0 0 1 590 880"/>
<path class="eb" d="M785 933A130 130 0 0 0 659 898"/>
<path class="eb" d="M785 933A130 130 0 0 1 895 948"/>
<path class="eb" d="M590 880A130 130 0 0 0 709 925"/>
<path class="eb" d="M590 880A130 130 0 0 1 659 898"/>
<path class="eb" d="M590 880A280 280 0 0 0 660 1022"/>
<path class="eb" d="M673 806A130 130 0 0 1 590 880"/>
<path class="eb" d="M673 806A130 130 0 0 0 709 925"/>
<path class="eb" d="M673 806A280 280 0 0 1 785 933"/>
<path class="eb" d="M931 993A130 130 0 0 0 984 959"/>
<path class="eb" d="M931 993A130 130 0 0 1 942 1028"/>
<path class="eb" d="M931 993A130 130 0 0 0 1017 1009"/>
<path class="ey" d="M1301 645A130 130 0 0 1 1270 576"/>
<path class="ey" d="M1301 645A130 130 0 0 0 1297 570"/>
<path class="ey" d="M1301 645A130 130 0 0 1 1344 583"/>
<path class="ey" d="M1301 645A130 130 0 0 0 1284 525"/>
<path class="ey" d="M1301 645A130 130 0 0 1 1203 540"/>
<path class="ey" d="M1301 645A280 280 0 0 0 1131 543"/>
<path class="ey" d="M1301 645A280 280 0 0 1 1124 581"/>
<path class="ey" d="M1301 645A280 280 0 0 0 1151 625"/>
<path class="ey" d="M1301 645A130 130 0 0 1 1169 698"/>
<path class="ey" d="M1301 645A130 130 0 0 0 1185 733"/>
<path class="ey" d="M1301 645A130 130 0 0 1 1274 720"/>
<path class="ey" d="M1301 645A130 130 0 0 0 1383 736"/>
<path class="ey" d="M1301 645A280 280 0 0 1 1306 813"/>
<path class="ey" d="M1301 645A130 130 0 0 0 1347 769"/>
<path class="ey" d="M1301 645A450 450 0 0 1 1156 921"/>
<path class="ey" d="M1301 645A280 280 0 0 0 1208 853"/>
<path class="ey" d="M1301 645A280 280 0 0 1 1453 857"/>
<path class="ey" d="M1301 645A280 280 0 0 0 1402 911"/>
<path class="ey" d="M1301 645A280 280 0 0 1 1093 790"/>
<path class="ey" d="M1301 645A280 280 0 0 0 1098 819"/>
<path class="ey" d="M1301 645A280 280 0 0 1 1322 868"/>
<path class="ey" d="M1301 645A450 450 0 0 0 1074 901"/>
<path class="ey" d="M1301 645A450 450 0 0 1 1086 430"/>
<path class="ey" d="M1301 645A280 280 0 0 0 1065 503"/>
<path class="ey" d="M1301 645A280 280 0 0 1 1201 456"/>
<path class="ey" d="M1301 645A280 280 0 0 0 1292 858"/>
<path class="ey" d="M1301 645A280 280 0 0 1 1251 898"/>
<path class="ey" d="M1301 645A450 450 0 0 0 1180 953"/>
<path class="ey" d="M1301 645A450 450 0 0 0 817 554"/>
<path class="ey" d="M1301 645A450 450 0 0 1 901 645"/>
<path class="ey" d="M1301 645A700 700 0 0 0 693 647"/>
<path class="ey" d="M1306 813A130 130 0 0 0 1274 720"/>
<path class="ey" d="M1306 813A130 130 0 0 1 1383 736"/>
<path class="ey" d="M1306 813A280 280 0 0 0 1453 857"/>
<path class="ey" d="M1306 813A130 130 0 0 1 1402 911"/>
<path class="ey" d="M1306 813A280 280 0 0 0 1427 918"/>
<path class="ey" d="M1306 813A280 280 0 0 1 1456 923"/>
<path class="ey" d="M1306 813A130 130 0 0 0 1322 868"/>
<path class="ey" d="M1306 813A130 130 0 0 1 1292 858"/>
<path class="ey" d="M1306 813A130 130 0 0 0 1208 853"/>
<path class="ey" d="M1306 813A130 130 0 0 1 1251 898"/>
<path class="ey" d="M1306 813A130 130 0 0 0 1221 894"/>
<path class="ey" d="M1306 813A280 280 0 0 1 1156 921"/>
<path class="ey" d="M1306 813A280 280 0 0 0 1180 953"/>
<path class="ey" d="M1306 813A280 280 0 0 1 1074 901"/>
<path class="ey" d="M1306 813A450 450 0 0 0 1066 1027"/>
<path class="ey" d="M1306 813A280 280 0 0 1 1093 790"/>
<path class="ey" d="M1306 813A130 130 0 0 0 1185 733"/>
<path class="ey" d="M1306 813A280 280 0 0 1 1169 698"/>
<path class="ey" d="M1306 813A280 280 0 0 0 1270 576"/>
<path class="ey" d="M1306 813A280 280 0 0 1 1344 583"/>
<path class="ey" d="M1306 813A280 280 0 0 0 1151 625"/>
<path class="ey" d="M1306 813A280 280 0 0 1 1098 819"/>
<path class="ey" d="M1306 813A280 280 0 0 0 1284 525"/>
<path class="ey" d="M1306 813A280 280 0 0 1 1009 794"/>
<path class="ey" d="M1306 813A700 700 0 0 0 802 789"/>
<path class="ey" d="M1306 813A700 700 0 0 1 817 554"/>
<path class="ey" d="M1306 813A450 450 0 0 0 984 959"/>
<path class="ey" d="M1156 921A130 130 0 0 1 1074 901"/>
<path class="ey" d="M1156 921A130 130 0 0 0 1180 953"/>
<path class="ey" d="M1156 921A130 130 0 0 1 1221 894"/>
<path class="ey" d="M1156 921A130 130 0 0 0 1251 898"/>
<path class="ey" d="M1156 921A130 130 0 0 1 1066 1027"/>
<path class="ey" d="M1156 921A280 280 0 0 0 1402 911"/>
<path class="ey" d="M1156 921A450 450 0 0 1 1453 857"/>
<path class="ey" d="M1156 921A130 130 0 0 0 1208 853"/>
<path class="ey" d="M1156 921A130 130 0 0 1 1093 790"/>
<path class="ey" d="M1156 921A450 450 0 0 0 797 1006"/>
<path class="ey" d="M1156 921A700 700 0 0 1 598 983"/>
<path class="ey" d="M1156 921A280 280 0 0 0 1001 1121"/>
<path class="ey" d="M1156 921A130 130 0 0 1 1098 819"/>
<path class="ey" d="M1156 921A280 280 0 0 0 1185 733"/>
<path class="ey" d="M1156 921A450 450 0 0 1 1456 923"/>
<path class="ey" d="M1156 921A280 280 0 0 0 1322 868"/>
<path class="ey" d="M1156 921A280 280 0 0 1 931 993"/>
<path class="ey" d="M1156 921A280 280 0 0 0 984 959"/>
<path class="ey" d="M1156 921A450 450 0 0 1 802 789"/>
<path class="ey" d="M1270 576A280 280 0 0 1 1066 720"/>
<path class="ey" d="M1208 853A280 280 0 0 0 946 856"/>
<path class="ey" d="M1074 901A130 130 0 0 1 946 856"/>
<path class="ey" d="M1093 790A280 280 0 0 0 946 856"/>
<path class="ey" d="M1185 733A280 280 0 0 1 1082 584"/>
<path class="ey" d="M1402 911A450 450 0 0 1 1024 924"/>
<path class="ey" d="M1453 857A130 130 0 0 1 1402 911"/>
<path class="ey" d="M1453 857A130 130 0 0 0 1456 923"/>
<path class="ey" d="M1453 857A130 130 0 0 1 1427 918"/>
<path class="ey" d="M1453 857A130 130 0 0 0 1322 868"/>
<path class="ey" d="M1453 857A130 130 0 0 1 1383 736"/>
<path class="ey" d="M1453 857A280 280 0 0 0 1292 858"/>
<path class="ey" d="M1453 857A450 450 0 0 1 1066 1027"/>
<path class="ey" d="M1066 1027A380 380 0 0 0 1453 857"/>
<path class="ey" d="M1180 953A320 320 0 0 0 1456 923"/>
<path class="ey" d="M1074 901A420 420 0 0 0 1453 857"/>
<path class="ey" d="M1453 857A280 280 0 0 0 1251 898"/>
<path class="ey" d="M1453 857A450 450 0 0 0 1284 525"/>
<path class="ey" d="M1453 857A280 280 0 0 1 1270 576"/>
<path class="ey" d="M1453 857A280 280 0 0 0 1344 583"/>
<path class="ey" d="M1402 911A130 130 0 0 1 1427 918"/>
<path class="ey" d="M1402 911A130 130 0 0 0 1322 868"/>
<path class="ey" d="M1402 911A450 450 0 0 1 1066 1027"/>
<path class="ey" d="M1402 911A130 130 0 0 0 1251 898"/>
<path class="ey" d="M1402 911A280 280 0 0 1 1208 853"/>
<path class="ey" d="M1402 911A280 280 0 0 1 1180 953"/>
<path class="ey" d="M1383 736A280 280 0 0 1 1402 911"/>
<path class="ey" d="M1383 736A280 280 0 0 1 1456 923"/>
<path class="ey" d="M1284 525A130 130 0 0 0 1270 576"/>
<path class="ey" d="M1284 525A130 130 0 0 1 1344 583"/>
<path class="ey" d="M1284 525A130 130 0 0 0 1235 485"/>
<path class="ey" d="M1270 576A130 130 0 0 1 1203 540"/>
<path class="ey" d="M1270 576A130 130 0 0 0 1151 625"/>
<path class="ey" d="M1270 576A130 130 0 0 1 1131 543"/>
<path class="ey" d="M1151 625A130 130 0 0 0 1124 581"/>
<path class="ey" d="M1151 625A130 130 0 0 1 1203 540"/>
<path class="ey" d="M1086 430A130 130 0 0 1 1065 503"/>
<path class="ey" d="M1065 503A130 130 0 0 0 1082 584"/>
<path class="ey" d="M1065 503A130 130 0 0 1 988 501"/>
</g>
<g id="nodes">
<g id="u1"><circle class="p" cx="621" cy="225" r="11"/></g>
<g id="u2"><circle class="p" cx="704" cy="230" r="12"/></g>
<g id="u3"><circle class="p" cx="756" cy="221" r="8"/></g>
<g id="u4"><circle class="p" cx="908" cy="209" r="8"/></g>
<g id="u5"><circle class="p" cx="695" cy="274" r="15"/></g>
<g id="u6"><circle class="p" cx="939" cy="280" r="16"/></g>
<g id="u7"><circle class="p" cx="927" cy="272" r="12"/></g>
<g id="u8"><circle class="p" cx="642" cy="384" r="7"/></g>
<g id="u9"><circle class="p" cx="771" cy="386" r="34"/></g>
<g id="u10"><circle class="p" cx="738" cy="402" r="15"/></g>
<g id="u11"><circle class="p" cx="964" cy="383" r="26"/></g>
<g id="u12"><circle class="p" cx="965" cy="328" r="8"/></g>
<g id="u13"><circle class="p" cx="1119" cy="413" r="15"/></g>
<g id="u14"><circle class="p" cx="1028" cy="440" r="10"/></g>
<g id="u15"><circle class="p" cx="1025" cy="491" r="10"/></g>
<g id="u16"><circle class="p" cx="584" cy="599" r="12"/></g>
<g id="u17"><circle class="p" cx="778" cy="583" r="13"/></g>
<g id="u18"><circle class="p" cx="907" cy="446" r="14"/></g>
<g id="u19"><circle class="p" cx="601" cy="329" r="7"/></g>
<g id="u20"><circle class="c" cx="846" cy="196" r="7"/></g>
<g id="u21"><circle class="c" cx="790" cy="244" r="9"/></g>
<g id="u22"><circle class="c" cx="757" cy="308" r="7"/></g>
<g id="u23"><circle class="c" cx="1052" cy="234" r="5"/></g>
<g id="u24"><circle class="c" cx="1115" cy="299" r="7"/></g>
<g id="u25"><circle class="c" cx="1235" cy="485" r="6"/></g>
<g id="u26"><circle class="c" cx="855" cy="437" r="24"/></g>
<g id="u27"><circle class="c" cx="968" cy="437" r="22"/></g>
<g id="u28"><circle class="c" cx="800" cy="452" r="15"/></g>
<g id="u29"><circle class="c" cx="669" cy="483" r="5"/></g>
<g id="u30"><circle class="c" cx="901" cy="583" r="8"/></g>
<g id="u31"><circle class="c" cx="828" cy="712" r="12"/></g>
<g id="u32"><circle class="c" cx="812" cy="728" r="12"/></g>
<g id="u33"><circle class="c" cx="691" cy="712" r="8"/></g>
<g id="u34"><circle class="c" cx="762" cy="760" r="7"/></g>
<g id="u35"><circle class="c" cx="923" cy="807" r="14"/></g>
<g id="u36"><circle class="r" cx="490" cy="461" r="8"/></g>
<g id="u37"><circle class="r" cx="533" cy="490" r="6"/></g>
<g id="u38"><circle class="r" cx="534" cy="559" r="13"/></g>
<g id="u39"><circle class="r" cx="403" cy="555" r="7"/></g>
<g id="u40"><circle class="r" cx="385" cy="561" r="8"/></g>
<g id="u41"><circle class="r" cx="435" cy="614" r="10"/></g>
<g id="u42"><circle class="r" cx="230" cy="658" r="16"/></g>
<g id="u43"><circle class="r" cx="297" cy="701" r="17"/></g>
<g id="u44"><circle class="r" cx="282" cy="690" r="6"/></g>
<g id="u45"><circle class="r" cx="428" cy="708" r="28"/></g>
<g id="u46"><circle class="r" cx="218" cy="778" r="10"/></g>
<g id="u47"><circle class="r" cx="525" cy="778" r="13"/></g>
<g id="u48"><circle class="r" cx="538" cy="797" r="12"/></g>
<g id="u49"><circle class="r" cx="486" cy="787" r="13"/></g>
<g id="u50"><circle class="r" cx="478" cy="754" r="11"/></g>
<g id="u51"><circle class="r" cx="452" cy="749" r="8"/></g>
<g id="u52"><circle class="r" cx="629" cy="763" r="13"/></g>
<g id="u53"><circle class="r" cx="643" cy="813" r="13"/></g>
<g id="u54"><circle class="r" cx="705" cy="710" r="6"/></g>
<g id="u55"><circle class="r" cx="686" cy="786" r="5"/></g>
<g id="u56"><circle class="r" cx="309" cy="826" r="6"/></g>
<g id="u57"><circle class="r" cx="437" cy="825" r="7"/></g>
<g id="u58"><circle class="r" cx="572" cy="838" r="20"/></g>
<g id="u59"><circle class="r" cx="558" cy="876" r="7"/></g>
<g id="u60"><circle class="r" cx="511" cy="905" r="6"/></g>
<g id="u61"><circle class="r" cx="535" cy="932" r="9"/></g>
<g id="u62"><circle class="r" cx="785" cy="904" r="10"/></g>
<g id="u63"><circle class="r" cx="668" cy="941" r="7"/></g>
<g id="u64"><circle class="r" cx="566" cy="952" r="10"/></g>
<g id="u65"><circle class="g" cx="525" cy="643" r="7"/></g>
<g id="u66"><circle class="g" cx="595" cy="757" r="8"/></g>
<g id="u67"><circle class="g" cx="977" cy="573" r="11"/></g>
<g id="u68"><circle class="g" cx="1176" cy="608" r="7"/></g>
<g id="u69"><circle class="g" cx="1232" cy="567" r="8"/></g>
<g id="u70"><circle class="g" cx="824" cy="664" r="6"/></g>
<g id="u71"><circle class="g" cx="1012" cy="553" r="7"/></g>
<g id="u72"><circle class="g" cx="869" cy="772" r="22"/></g>
<g id="u73"><circle class="g" cx="863" cy="761" r="10"/></g>
<g id="u74"><circle class="g" cx="846" cy="781" r="8"/></g>
<g id="u75"><circle class="g" cx="916" cy="769" r="13"/></g>
<g id="u76"><circle class="g" cx="960" cy="831" r="14"/></g>
<g id="u77"><circle class="g" cx="875" cy="841" r="9"/></g>
<g id="u78"><circle class="g" cx="1053" cy="845" r="21"/></g>
<g id="u79"><circle class="g" cx="829" cy="857" r="8"/></g>
<g id="u80"><circle class="g" cx="907" cy="884" r="12"/></g>
<g id="u81"><circle class="g" cx="922" cy="970" r="6"/></g>
<g id="u82"><circle class="g" cx="967" cy="979" r="10"/></g>
<g id="u83"><circle class="g" cx="1160" cy="716" r="14"/></g>
<g id="u84"><circle class="b" cx="962" cy="689" r="11"/></g>
<g id="u85"><circle class="b" cx="916" cy="726" r="13"/></g>
<g id="u86"><circle class="b" cx="1029" cy="795" r="7"/></g>
<g id="u87"><circle class="b" cx="673" cy="806" r="10"/></g>
<g id="u88"><circle class="b" cx="590" cy="880" r="14"/></g>
<g id="u89"><circle class="b" cx="659" cy="898" r="5"/></g>
<g id="u90"><circle class="b" cx="731" cy="938" r="12"/></g>
<g id="u91"><circle class="b" cx="632" cy="1008" r="16"/></g>
<g id="u92"><circle class="b" cx="715" cy="990" r="11"/></g>
<g id="u93"><circle class="b" cx="744" cy="998" r="20"/></g>
<g id="u94"><circle class="b" cx="764" cy="1006" r="14"/></g>
<g id="u95"><circle class="b" cx="815" cy="986" r="8"/></g>
<g id="u96"><circle class="b" cx="858" cy="1066" r="11"/></g>
<g id="u97"><circle class="b" cx="880" cy="1067" r="6"/></g>
<g id="u98"><circle class="b" cx="899" cy="1045" r="10"/></g>
<g id="u99"><circle class="b" cx="942" cy="1028" r="11"/></g>
<g id="u100"><circle class="b" cx="1017" cy="1009" r="8"/></g>
<g id="u101"><circle class="b" cx="895" cy="948" r="8"/></g>
<g id="u102"><circle class="b" cx="1024" cy="924" r="22"/></g>
<g id="u103"><circle class="b" cx="630" cy="1104" r="10"/></g>
<g id="u104"><circle class="b" cx="560" cy="1123" r="7"/></g>
<g id="u105"><circle class="b" cx="621" cy="1188" r="7"/></g>
<g id="u106"><circle class="b" cx="887" cy="380" r="12"/></g>
<g id="u107"><circle class="y" cx="1086" cy="430" r="10"/></g>
<g id="u108"><circle class="y" cx="1065" cy="503" r="6"/></g>
<g id="u109"><circle class="y" cx="1203" cy="540" r="7"/></g>
<g id="u110"><circle class="y" cx="1297" cy="570" r="10"/></g>
<g id="u111"><circle class="y" cx="1344" cy="583" r="7"/></g>
<g id="u112"><circle class="y" cx="1124" cy="581" r="13"/></g>
<g id="u113"><circle class="y" cx="1151" cy="625" r="12"/></g>
<g id="u114"><circle class="y" cx="1277" cy="677" r="25"/></g>
<g id="u115"><circle class="y" cx="1169" cy="698" r="11"/></g>
<g id="u116"><circle class="y" cx="1185" cy="733" r="17"/></g>
<g id="u117"><circle class="y" cx="1383" cy="736" r="6"/></g>
<g id="u118"><circle class="y" cx="1347" cy="769" r="23"/></g>
<g id="u119"><circle class="y" cx="1310" cy="784" r="18"/></g>
<g id="u120"><circle class="y" cx="1345" cy="872" r="6"/></g>
<g id="u121"><circle class="y" cx="1292" cy="858" r="7"/></g>
<g id="u122"><circle class="y" cx="1208" cy="853" r="19"/></g>
<g id="u123"><circle class="y" cx="1074" cy="901" r="10"/></g>
<g id="u124"><circle class="y" cx="1221" cy="894" r="6"/></g>
<g id="u125"><circle class="y" cx="1251" cy="898" r="11"/></g>
<g id="u126"><circle class="y" cx="1180" cy="953" r="9"/></g>
<g id="u127"><circle class="y" cx="1427" cy="918" r="7"/></g>
<g id="u128"><circle class="y" cx="1456" cy="923" r="7"/></g>
<g id="u129"><circle class="y" cx="1098" cy="819" r="6"/></g>
<g id="u130"><circle class="y" cx="1009" cy="794" r="6"/></g>
<g id="u131"><circle class="g" cx="1034" cy="758" r="11"/></g>
<g id="u132"><circle class="g" cx="1049" cy="776" r="11"/></g>
<g id="u133"><circle class="g" cx="990" cy="771" r="12"/></g>
<g id="u134"><circle class="b" cx="994" cy="750" r="15"/></g>

<g id="n-agent"><circle class="g" cx="1066" cy="720" r="80"/><text x="1068.5" y="736.5" font-size="55.4">agent</text></g>
<g id="n-robot"><circle class="y" cx="1306" cy="813" r="58"/><text x="1307" y="826" font-size="45.6">robot</text></g>
<g id="n-algorithm"><circle class="y" cx="1301" cy="645" r="56"/><text x="1300" y="657" font-size="42.4">algorithm</text></g>
<g id="n-strategy"><circle class="p" cx="886" cy="408" r="49"/><text x="885" y="419" font-size="41.4">strategy</text></g>
<g id="n-participant"><circle class="r" cx="358" cy="677" r="35"/><text x="360.5" y="686.7" font-size="32.5">participant</text></g>
<g id="n-crowd-dynamic"><circle class="b" cx="598" cy="983" r="31"/><text x="596" y="991.3" font-size="31.3">crowd dynamic</text></g>
<g id="n-interaction"><circle class="y" cx="1156" cy="921" r="31"/><text x="1153.5" y="928.2" font-size="31">interaction</text></g>
<g id="n-evacuation-behavior"><circle class="r" cx="461" cy="566" r="27"/><text x="464" y="576" font-size="27.5">evacuation behavior</text></g>
<g id="n-leadership"><circle class="r" cx="537" cy="765" r="27"/><text x="538.5" y="775" font-size="27.9">leadership</text></g>
<g id="n-member"><circle class="r" cx="556" cy="845" r="22"/><text x="558.5" y="851" font-size="27.7">member</text></g>
<g id="n-decision-making"><circle class="g" cx="802" cy="789" r="24"/><text x="804.5" y="798" font-size="27.9">decision making</text></g>
<g id="n-evacuation-strategy"><circle class="p" cx="791" cy="281" r="23"/><text x="788" y="290" font-size="27">evacuation strategy</text></g>
<g id="n-crowd-simulation"><circle class="g" cx="946" cy="856" r="22"/><text x="943.5" y="870.6" font-size="26.1">crowd simulation</text></g>
<g id="n-aspect"><circle class="b" cx="797" cy="1006" r="22"/><text x="796.5" y="1014.6" font-size="26">aspect</text></g>
<g id="n-review"><circle class="b" cx="701" cy="1107" r="21"/><text x="701" y="1114.5" font-size="25.9">review</text></g>
<g id="n-evacuation-assistant"><circle class="p" cx="1107" cy="234" r="21"/><text x="1104.5" y="243.7" font-size="26.3">evacuation assistant</text></g>
<g id="n-source"><circle class="g" cx="817" cy="554" r="20"/><text x="816" y="562.6" font-size="26">source</text></g>
<g id="n-social-group"><circle class="r" cx="369" cy="816" r="19"/><text x="370" y="823.3" font-size="25">social group</text></g>
<g id="n-degree"><circle class="r" cx="547" cy="614" r="18"/><text x="548.5" y="620.3" font-size="25.3">degree</text></g>
<g id="n-target"><circle class="c" cx="1068" cy="431" r="18"/><text x="1067" y="438.7" font-size="23.3">target</text></g>
<g id="n-group-size"><circle class="r" cx="402" cy="908" r="16"/><text x="400" y="913.6" font-size="23.1">group size</text></g>
<g id="n-control"><circle class="y" cx="1274" cy="720" r="16"/><text x="1273.5" y="724.3" font-size="25">control</text></g>
<g id="n-self"><circle class="c" cx="927" cy="458" r="15"/><text x="927" y="460.7" font-size="23.3">self</text></g>
<g id="n-observation"><circle class="r" cx="619" cy="936" r="15"/><text x="618" y="943.5" font-size="22.7">observation</text></g>
<g id="n-year"><circle class="c" cx="693" cy="647" r="15"/><text x="692.5" y="653.7" font-size="23.2">year</text></g>
<g id="n-phenomena"><circle class="r" cx="508" cy="718" r="14"/><text x="505.5" y="724.5" font-size="22.8">phenomena</text></g>
<g id="n-incident"><circle class="g" cx="772" cy="713" r="14"/><text x="772" y="718.4" font-size="22.4">incident</text></g>
<g id="n-response"><circle class="g" cx="893" cy="721" r="14"/><text x="894" y="727.5" font-size="22.8">response</text></g>
<g id="n-navigation"><circle class="g" cx="1082" cy="584" r="14"/><text x="1081" y="590.7" font-size="23.3">navigation</text></g>
<g id="n-context"><circle class="b" cx="694" cy="1059" r="14"/><text x="693" y="1065.6" font-size="23">context</text></g>
<g id="n-pedestrian-ow"><circle class="y" cx="1402" cy="911" r="13"/><text x="1402" y="918.5" font-size="22.8">pedestrian ow</text></g>
<g id="n-efciency"><circle class="y" cx="1270" cy="576" r="12"/><text x="1268" y="582.4" font-size="22.5">efciency</text></g>
<g id="n-survey"><circle class="b" cx="785" cy="933" r="12"/><text x="785.5" y="939.7" font-size="23.2">survey</text></g>
<g id="n-stampede"><circle class="b" cx="813" cy="1041" r="12"/><text x="814.5" y="1049" font-size="21.2">stampede</text></g>
<g id="n-proportion"><circle class="p" cx="570" cy="368" r="12"/><text x="570" y="377" font-size="21.3">proportion</text></g>
<g id="n-limited-visibility"><circle class="p" cx="712" cy="246" r="12"/><text x="714.5" y="251" font-size="21.1">limited visibility</text></g>
<g id="n-social-relation"><circle class="r" cx="174" cy="742" r="12"/><text x="176.5" y="749" font-size="21.1">social relation</text></g>
<g id="n-visibility"><circle class="p" cx="453" cy="470" r="11"/><text x="453" y="475" font-size="21.4">visibility</text></g>
<g id="n-controller"><circle class="y" cx="1453" cy="857" r="11"/><text x="1454" y="864" font-size="21.1">controller</text></g>
<g id="n-visibility-range"><circle class="p" cx="528" cy="217" r="10.5"/><text x="527.5" y="224" font-size="21.3">visibility range</text></g>
<g id="n-terrorist-attack"><circle class="c" cx="937" cy="356" r="10"/><text x="938.5" y="363" font-size="21.2">terrorist attack</text></g>
<g id="n-hand"><circle class="c" cx="1044" cy="467" r="10"/><text x="1044.5" y="474" font-size="21.3">hand</text></g>
<g id="n-relation"><circle class="g" cx="668" cy="710" r="10.5"/><text x="668" y="716" font-size="21">relation</text></g>
<g id="n-human-crowd"><circle class="b" cx="931" cy="993" r="10"/><text x="931.5" y="999" font-size="21.1">human crowd</text></g>
<g id="n-pedestrian-dynamic"><circle class="b" cx="984" cy="959" r="10"/><text x="985.5" y="964.5" font-size="19.6">pedestrian dynamic</text></g>
<g id="n-concept"><circle class="y" cx="1093" cy="790" r="10"/><text x="1093" y="797" font-size="21.1">concept</text></g>
<g id="n-rescuer"><circle class="p" cx="827" cy="190" r="9"/><text x="827.5" y="195.4" font-size="19.5">rescuer</text></g>
<g id="n-death"><circle class="c" cx="1079" cy="320" r="9"/><text x="1078" y="323.3" font-size="19.2">death</text></g>
<g id="n-place"><circle class="c" cx="988" cy="501" r="9"/><text x="988" y="506.4" font-size="19.5">place</text></g>
<g id="n-explanation"><circle class="c" cx="899" cy="918" r="9"/><text x="899" y="921.5" font-size="19.6">explanation</text></g>
<g id="n-injury"><circle class="c" cx="1114" cy="367" r="8"/><text x="1114" y="371.5" font-size="19.6">injury</text></g>
<g id="n-combination"><circle class="c" cx="1201" cy="456" r="8"/><text x="1201.5" y="460.5" font-size="19.6">combination</text></g>
<g id="n-optimal-number"><circle class="p" cx="1082" cy="197" r="8"/><text x="1083" y="201.4" font-size="19.5">optimal number</text></g>
<g id="n-destination"><circle class="g" cx="901" cy="645" r="8"/><text x="902" y="649.5" font-size="19.8">destination</text></g>
<g id="n-computer"><circle class="g" cx="983" cy="790" r="8"/><text x="982" y="795.3" font-size="19.3">computer</text></g>
<g id="n-experimental-study"><circle class="r" cx="316" cy="773" r="8"/><text x="316.5" y="778.5" font-size="19.6">experimental study</text></g>
<g id="n-question"><circle class="b" cx="660" cy="1022" r="8"/><text x="661.5" y="1025.4" font-size="19.3">question</text></g>
<g id="n-simulation-study"><circle class="c" cx="729" cy="497" r="7"/><text x="729" y="501.5" font-size="19.6">simulation study</text></g>
<g id="n-crowd-safety"><circle class="b" cx="743" cy="1180" r="7"/><text x="743" y="1185.4" font-size="19.5">crowd safety</text></g>
<g id="n-herd"><circle class="b" cx="709" cy="925" r="7"/><text x="709.5" y="929.5" font-size="19.6">herd</text></g>
<g id="n-search"><circle class="g" cx="1131" cy="543" r="7"/><text x="1131.5" y="546.5" font-size="19.8">search</text></g>
<g id="n-egress"><circle class="r" cx="297" cy="728" r="7"/><text x="297.5" y="731.6" font-size="19.9">egress</text></g>
<g id="n-collective-motion"><circle class="y" cx="1066" cy="1027" r="7"/><text x="1066.5" y="1031.5" font-size="19.6">collective motion</text></g>
<g id="n-emergence"><circle class="r" cx="782" cy="874" r="6"/><text x="782" y="879.5" font-size="19.8">emergence</text></g>
<g id="n-cellular-automaton"><circle class="p" cx="524" cy="323" r="6"/><text x="523.5" y="327.5" font-size="19.6">cellular automaton</text></g>
<g id="n-cooperation"><circle class="p" cx="610" cy="278" r="6"/><text x="610" y="282" font-size="18.5">cooperation</text></g>
<g id="n-hazard"><circle class="p" cx="829" cy="227" r="6"/><text x="827.5" y="228.5" font-size="19.5">hazard</text></g>
<g id="n-wall"><circle class="p" cx="716" cy="170" r="6"/><text x="715" y="174.3" font-size="19">wall</text></g>
<g id="n-elevator"><circle class="r" cx="140" cy="693" r="6"/><text x="140.5" y="698.5" font-size="19.7">elevator</text></g>
<g id="n-attacker"><circle class="c" cx="565" cy="485" r="6"/><text x="565.5" y="489.5" font-size="19.7">attacker</text></g>
<g id="n-sarex"><circle class="b" cx="535" cy="1123" r="6"/><text x="535" y="1127.6" font-size="19.9">sarex</text></g>
<g id="n-crowd-analysis"><circle class="b" cx="838" cy="1135" r="6"/><text x="839" y="1139.5" font-size="19.6">crowd analysis</text></g>
<g id="n-cas"><circle class="b" cx="1001" cy="1121" r="6"/><text x="1000.5" y="1123.4" font-size="19.3">cas</text></g>
<g id="n-sfm"><circle class="y" cx="1284" cy="525" r="6"/><text x="1284.5" y="530.6" font-size="20">sfm</text></g>
<g id="n-age"><circle class="g" cx="681" cy="765" r="6"/><text x="679" y="768" font-size="18.6">age</text></g>
<g id="n-subject"><circle class="r" cx="386" cy="621" r="6"/><text x="384" y="624.5" font-size="19.7">subject</text></g>
<g id="n-society"><circle class="g" cx="984" cy="557" r="5"/><text x="984" y="562.8" font-size="18.6">society</text></g>
<g id="n-kind"><circle class="r" cx="479" cy="615" r="5"/><text x="476.5" y="618" font-size="18.5">kind</text></g>
<g id="n-iii"><circle class="g" cx="832" cy="747" r="5"/><text x="831.5" y="750.3" font-size="19">iii</text></g>
<g id="n-user"><circle class="y" cx="1322" cy="868" r="5"/><text x="1322" y="872.4" font-size="19.4">user</text></g>
<g id="n-leaders"><circle class="p" cx="648" cy="327" r="5"/><text x="649" y="330.5" font-size="19.8">leaders</text></g>
<g id="n-ordinary-person"><circle class="p" cx="523" cy="110" r="5"/><text x="521.5" y="112" font-size="18.5">ordinary person</text></g>
<g id="n-initial-location"><circle class="p" cx="795" cy="131" r="5"/><text x="795.5" y="135" font-size="18">initial location</text></g>
</g>
</g>
</svg>
